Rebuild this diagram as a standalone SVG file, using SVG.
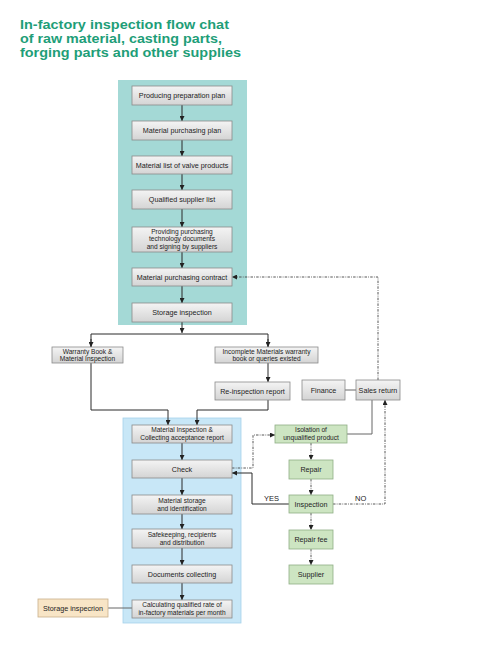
<svg xmlns="http://www.w3.org/2000/svg" width="500" height="652" viewBox="0 0 500 652">
<defs>
<linearGradient id="gg" x1="0" y1="0" x2="0" y2="1"><stop offset="0" stop-color="#f4f4f4"/><stop offset="1" stop-color="#d4d4d4"/></linearGradient>
<marker id="ah" viewBox="0 0 6 6" refX="6" refY="3" markerWidth="5" markerHeight="5" orient="auto" markerUnits="userSpaceOnUse"><path d="M0,0 L6,3 L0,6 z" fill="#222"/></marker>
<style>
.bx{fill:url(#gg);stroke:#8a8a8a;stroke-width:0.8}
.gr{fill:#cde5c2;stroke:#8fae86;stroke-width:0.8}
.tn{fill:#f8e5c6;stroke:#c8b08a;stroke-width:0.8}
.t{font-family:"Liberation Sans",Arial,sans-serif;font-size:7.2px;fill:#222;text-anchor:middle}
.t2{font-family:"Liberation Sans",Arial,sans-serif;font-size:6.6px;fill:#222;text-anchor:middle}
.title{font-family:"Liberation Sans",Arial,sans-serif;font-size:13.2px;font-weight:bold;fill:#1e9e78}
.ln{fill:none;stroke:#2a2a2a;stroke-width:1}
.lg{fill:none;stroke:#666;stroke-width:1}
.dd{fill:none;stroke:#444;stroke-width:0.9;stroke-dasharray:2.5,1.2,0.8,1.2}
.lb{font-family:"Liberation Sans",Arial,sans-serif;font-size:7.5px;fill:#222}
</style>
</defs>
<rect width="500" height="652" fill="#fff"/>
<g id="title">
<text class="title" x="20" y="28.5" textLength="209" lengthAdjust="spacingAndGlyphs">In-factory inspection flow chat</text>
<text class="title" x="20" y="42.5" textLength="202" lengthAdjust="spacingAndGlyphs">of raw material, casting parts,</text>
<text class="title" x="20" y="56.5" textLength="221" lengthAdjust="spacingAndGlyphs">forging parts and other supplies</text>
</g>
<rect x="118" y="80" width="129" height="245" fill="#a4d9d6"/>
<rect x="123" y="418" width="118" height="205" fill="#c8e7f7" stroke="#a6d2ea" stroke-width="0.8"/>
<g id="connectors">
<path class="ln" d="M182,105 V121" marker-end="url(#ah)"/>
<path class="ln" d="M182,140 V156" marker-end="url(#ah)"/>
<path class="ln" d="M182,174 V190" marker-end="url(#ah)"/>
<path class="ln" d="M182,209 V227" marker-end="url(#ah)"/>
<path class="ln" d="M182,252 V268" marker-end="url(#ah)"/>
<path class="ln" d="M182,286 V303" marker-end="url(#ah)"/>
<path class="ln" d="M182,322 V333" marker-end="url(#ah)"/>
<path class="ln" d="M91,347 V334 H268 V347" />
<path class="ln" d="M91,339 V347" marker-end="url(#ah)"/>
<path class="ln" d="M268,339 V347" marker-end="url(#ah)"/>
<path class="ln" d="M268,363 V382" marker-end="url(#ah)"/>
<path class="ln" d="M91,363 V410 H168 V425" marker-end="url(#ah)"/>
<path class="ln" d="M268,400 V410 H197 V425" marker-end="url(#ah)"/>
<path class="ln" d="M182,443 V460" marker-end="url(#ah)"/>
<path class="ln" d="M182,478 V495" marker-end="url(#ah)"/>
<path class="ln" d="M182,514 V529" marker-end="url(#ah)"/>
<path class="ln" d="M182,548 V565" marker-end="url(#ah)"/>
<path class="ln" d="M182,583 V600" marker-end="url(#ah)"/>
<path class="lg" d="M108,608 H132"/>
<path class="lg" d="M345,390 H356"/>
<path class="lg" d="M347,434 H372 V400"/>
<path class="dd" d="M378,380 V277 H232" marker-end="url(#ah)"/>
<path class="dd" d="M232,468 H253 V435 H275" marker-end="url(#ah)"/>
<path class="ln" d="M289,504 H252 V473 H232" marker-end="url(#ah)"/>
<path class="dd" d="M333,504 H385 V400" marker-end="url(#ah)"/>
<path class="dd" d="M311,443 V460" marker-end="url(#ah)"/>
<path class="dd" d="M311,479 V495" marker-end="url(#ah)"/>
<path class="dd" d="M311,513 V530" marker-end="url(#ah)"/>
<path class="dd" d="M311,549 V565" marker-end="url(#ah)"/>
<text class="lb" x="264" y="501">YES</text>
<text class="lb" x="355" y="501">NO</text>
</g>
<g id="n1"><rect class="bx" x="132" y="86" width="100" height="19"/><text class="t" x="182" y="98">Producing preparation plan</text></g>
<g id="n2"><rect class="bx" x="132" y="121" width="100" height="19"/><text class="t" x="182" y="133">Material purchasing plan</text></g>
<g id="n3"><rect class="bx" x="132" y="156" width="100" height="18"/><text class="t" x="182" y="167.5">Material list of valve products</text></g>
<g id="n4"><rect class="bx" x="132" y="190" width="100" height="19"/><text class="t" x="182" y="202">Qualified supplier list</text></g>
<g id="n5"><rect class="bx" x="132" y="227" width="100" height="25"/><text class="t2" x="182" y="233.5">Providing purchasing</text><text class="t2" x="182" y="241">technology documents</text><text class="t2" x="182" y="248.5">and signing by suppliers</text></g>
<g id="n6"><rect class="bx" x="132" y="268" width="100" height="18"/><text class="t" x="182" y="279.5">Material purchasing contract</text></g>
<g id="n7"><rect class="bx" x="132" y="303" width="100" height="19"/><text class="t" x="182" y="315">Storage inspection</text></g>
<g id="n8"><rect class="bx" x="52" y="347" width="71" height="16"/><text class="t2" x="87.5" y="353.8">Warranty Book &amp;</text><text class="t2" x="87.5" y="361.2">Material Inspection</text></g>
<g id="n9"><rect class="bx" x="215" y="347" width="103" height="16"/><text class="t2" x="266.5" y="353.8">Incomplete Materials warranty</text><text class="t2" x="266.5" y="361.2">book or queries existed</text></g>
<g id="n10"><rect class="bx" x="215" y="382" width="75" height="18"/><text class="t" x="252.5" y="393.5">Re-inspection report</text></g>
<g id="n11"><rect class="bx" x="302" y="380" width="43" height="20"/><text class="t" x="323.5" y="392.5">Finance</text></g>
<g id="n12"><rect class="bx" x="356" y="380" width="44" height="20"/><text class="t" x="378" y="392.5">Sales return</text></g>
<g id="n13"><rect class="bx" x="132" y="425" width="100" height="18"/><text class="t2" x="182" y="432">Material Inspection &amp;</text><text class="t2" x="182" y="439.8">Collecting acceptance report</text></g>
<g id="n14"><rect class="bx" x="132" y="460" width="100" height="18"/><text class="t" x="182" y="471.5">Check</text></g>
<g id="n15"><rect class="bx" x="132" y="495" width="100" height="19"/><text class="t2" x="182" y="502.8">Material storage</text><text class="t2" x="182" y="510.6">and identification</text></g>
<g id="n16"><rect class="bx" x="132" y="529" width="100" height="19"/><text class="t2" x="182" y="536.8">Safekeeping, recipients</text><text class="t2" x="182" y="544.6">and distribution</text></g>
<g id="n17"><rect class="bx" x="132" y="565" width="100" height="18"/><text class="t" x="182" y="576.5">Documents collecting</text></g>
<g id="n18"><rect class="bx" x="132" y="600" width="100" height="18"/><text class="t2" x="182" y="607">Calculating qualified rate of</text><text class="t2" x="182" y="614.8">in-factory materials per month</text></g>
<g id="n19"><rect class="tn" x="38" y="599" width="70" height="18"/><text class="t" x="73" y="610.5">Storage inspecrion</text></g>
<g id="n20"><rect class="gr" x="275" y="425" width="72" height="18"/><text class="t2" x="311" y="432">Isolation of</text><text class="t2" x="311" y="439.8">unqualified product</text></g>
<g id="n21"><rect class="gr" x="289" y="460" width="44" height="19"/><text class="t" x="311" y="472">Repair</text></g>
<g id="n22"><rect class="gr" x="289" y="495" width="44" height="18"/><text class="t" x="311" y="506.5">Inspection</text></g>
<g id="n23"><rect class="gr" x="289" y="530" width="44" height="19"/><text class="t" x="311" y="542">Repair fee</text></g>
<g id="n24"><rect class="gr" x="289" y="565" width="44" height="19"/><text class="t" x="311" y="577">Supplier</text></g>
</svg>
